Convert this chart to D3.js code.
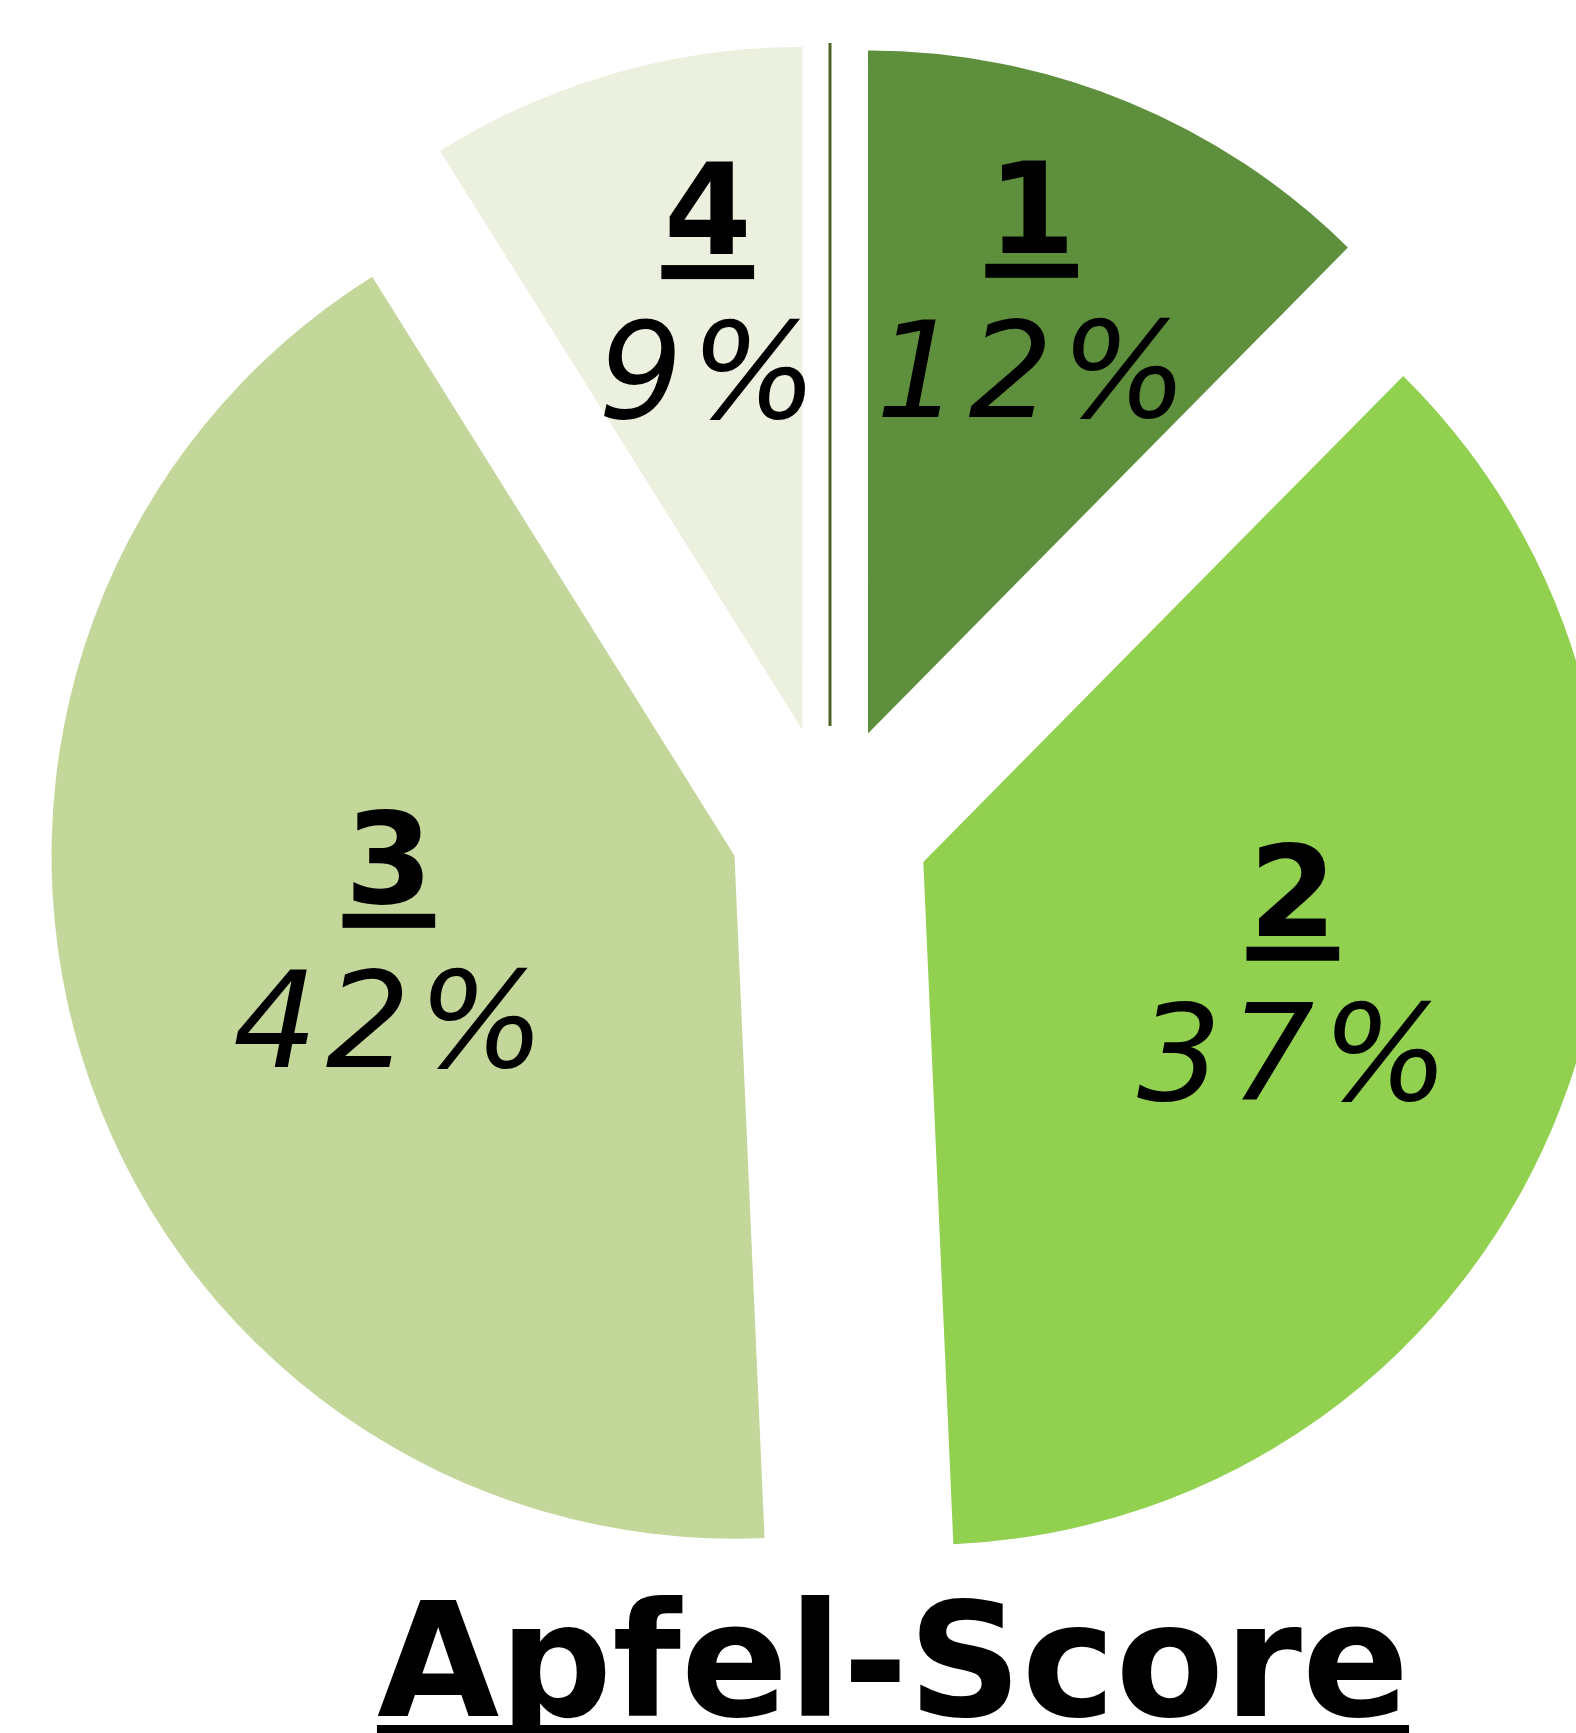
<!DOCTYPE html>
<html>
<head>
<meta charset="utf-8">
<script src="https://cdn.jsdelivr.net/npm/d3@7"></script>
<style>
  body { margin: 0; background: #fff; }
  svg { display: block; }
</style>
</head>
<body>
<div id="chart"></div>
<script>
// Apfel-Score distribution (shares in %)
const categories = ['0', '1', '2', '3', '4'];
const values = [0, 12.4, 36.9, 41.8, 8.9];
const colors = ['#4f6228', '#5e8f3c', '#92d050', '#c4d79b', '#ebf1de'];
const title = 'Apfel-Score';

const width = 1576,
      height = 1733;

const center = {x: 830, y: 826},
      radius = 683,
      explode = 100,
      fontFamily = 'DejaVu Sans, Verdana, sans-serif';

// best-fit label placement, measured from each slice's own centre
const labelRadius = [0, 431, 401, 369, 405];
const labelTurn = [0, 0, 1.8, -3.2, 2.5];   // degrees off the bisector

const data = categories.map((c, i) => ({label: c, value: values[i], color: colors[i]}));

const svg = d3.select('#chart')
    .append('svg')
    .attr('width', width)
    .attr('height', height);

const g = svg.append('g')
    .attr('transform', 'translate(' + center.x + ',' + center.y + ')');

const pie = d3.pie()
    .sort(null)
    .value(d => d.value);

const arc = d3.arc()
    .innerRadius(0)
    .outerRadius(radius);

const arcs = pie(data);

const midAngle = d => (d.startAngle + d.endAngle) / 2;

const slices = g.selectAll('.slice')
    .data(arcs)
    .enter()
    .append('g')
    .attr('class', 'slice')
    .attr('transform', d => {
        const o = d3.pointRadial(midAngle(d), explode);
        return 'translate(' + o[0] + ',' + o[1] + ')';
    });

slices.append('path')
    .attr('d', arc)
    .attr('fill', d => d.data.color)
    .attr('stroke', d => d.data.value === 0 ? d.data.color : 'none')
    .attr('stroke-width', 3);

// labels: underlined bold category, italic percentage
const labelled = slices.filter(d => d.data.value > 0);

labelled.each(function(d) {
    const a = midAngle(d) + labelTurn[d.index] * Math.PI / 180;
    const c = d3.pointRadial(a, labelRadius[d.index]);
    const sel = d3.select(this);

    const num = sel.append('text')
        .attr('x', c[0])
        .attr('y', c[1] - 82)
        .attr('text-anchor', 'middle')
        .attr('font-family', fontFamily)
        .attr('font-weight', 'bold')
        .attr('font-size', '126px')
        .attr('fill', '#000')
        .text(d.data.label);

    const w = num.node().getComputedTextLength();
    sel.append('rect')
        .attr('x', c[0] - w / 2 - 2.5)
        .attr('y', c[1] - 71)
        .attr('width', w + 5)
        .attr('height', 14)
        .attr('fill', '#000');

    sel.append('text')
        .attr('x', c[0] + 4)
        .attr('y', c[1] + 82)
        .attr('text-anchor', 'middle')
        .attr('font-family', fontFamily)
        .attr('font-style', 'italic')
        .attr('font-size', '133px')
        .attr('letter-spacing', '8px')
        .attr('fill', '#000')
        .text(Math.round(d.data.value) + '%');
});

// title
const titleText = svg.append('text')
    .attr('x', 893)
    .attr('y', 1716)
    .attr('text-anchor', 'middle')
    .attr('font-family', fontFamily)
    .attr('font-weight', 'bold')
    .attr('font-size', '158px')
    .attr('fill', '#000')
    .text(title);

const tw = titleText.node().getComputedTextLength();
svg.append('rect')
    .attr('x', 893 - tw / 2)
    .attr('y', 1725)
    .attr('width', tw)
    .attr('height', 8)
    .attr('fill', '#000');
</script>
</body>
</html>
